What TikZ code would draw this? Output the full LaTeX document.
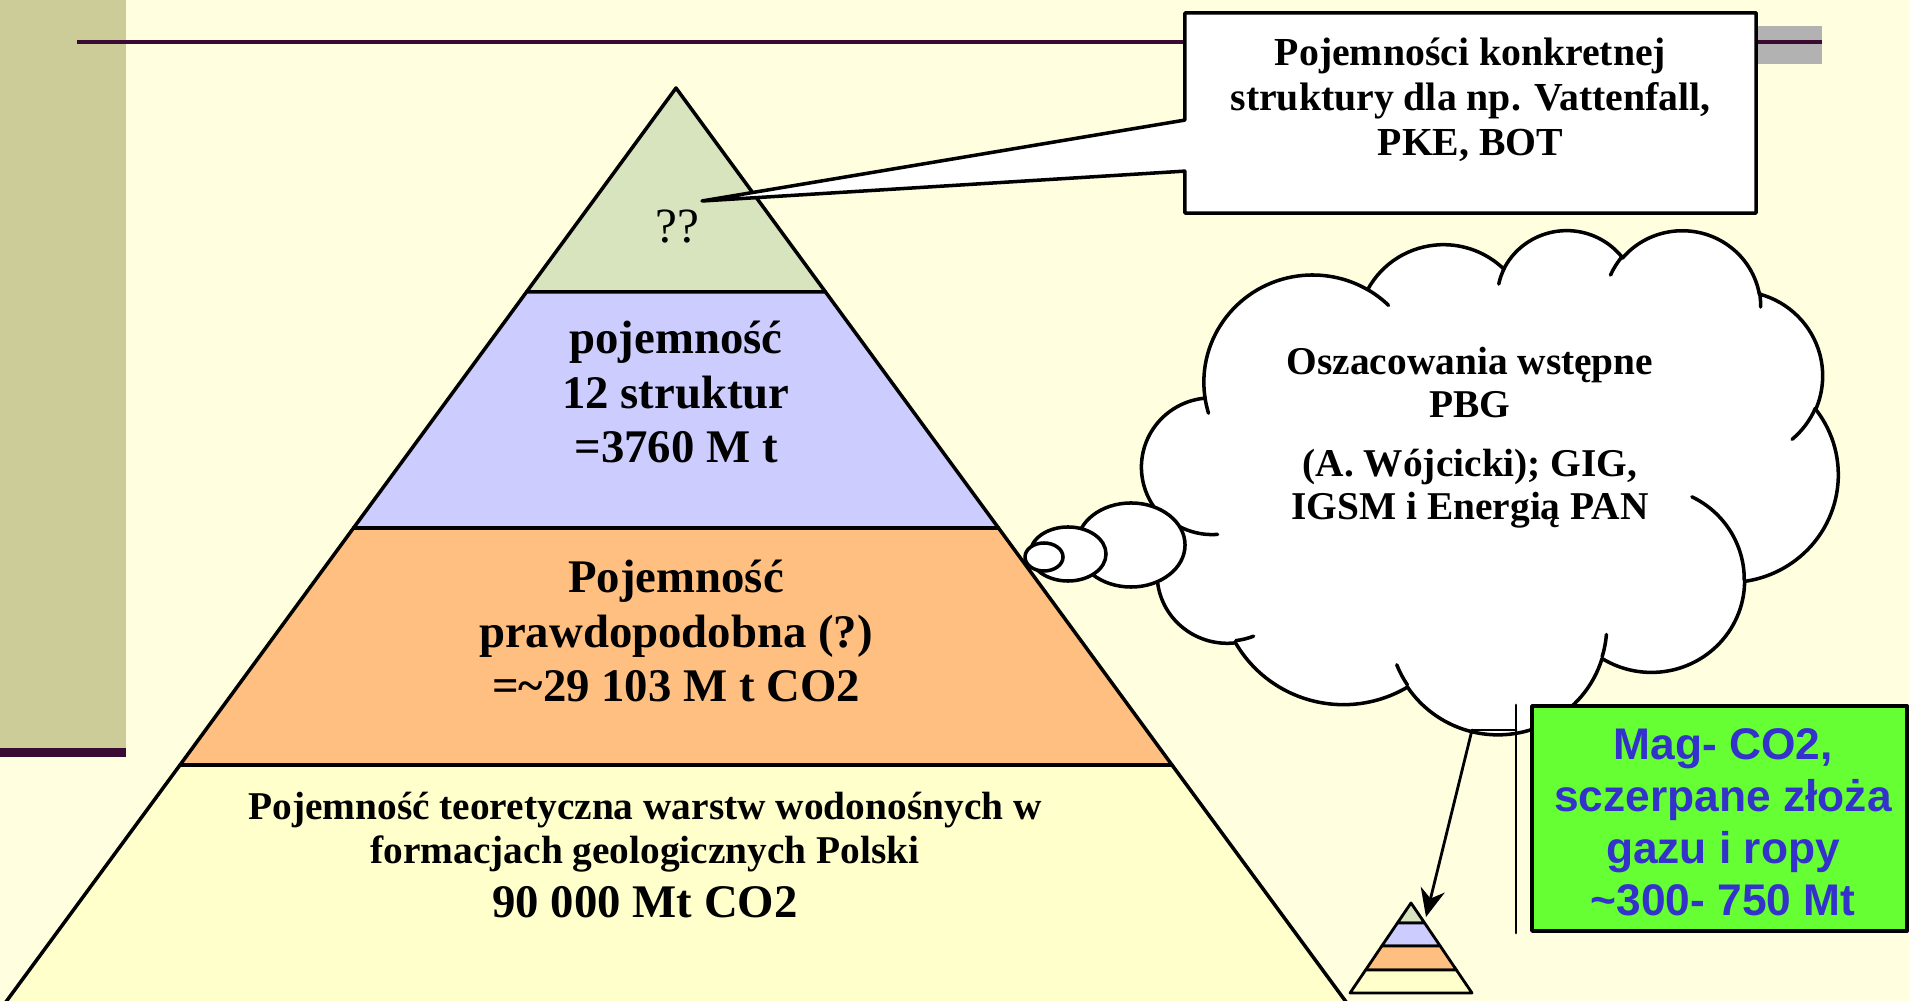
\documentclass[tikz,border=0pt]{standalone}
\usepackage{fontspec}
\setmainfont{Liberation Serif}
\newfontfamily\magfont{Liberation Sans}
\usetikzlibrary{arrows.meta,shapes.callouts,shapes.geometric,positioning}
\definecolor{slidebg}{HTML}{FFFFE0}
\definecolor{stripe}{HTML}{CCCC99}
\definecolor{plum}{HTML}{3A0A33}
\definecolor{bargray}{HTML}{B2B2B2}
\definecolor{tiergreen}{HTML}{D7E4BD}
\definecolor{tierblue}{HTML}{CCCCFF}
\definecolor{tierorange}{HTML}{FFBF80}
\definecolor{tieryellow}{HTML}{FFFFCC}
\definecolor{maggreen}{HTML}{66FF33}
\definecolor{magblue}{HTML}{3333CC}
\tikzset{
  tier/.style={draw=black,line width=1pt},
  bigtxt/.style={font=\bfseries\fontsize{13.3}{15.4}\selectfont,align=center},
  smalltxt/.style={font=\bfseries\fontsize{11.2}{12.4}\selectfont,align=center},
  bubble/.style={ellipse,draw=black,line width=1pt,fill=white,inner sep=0pt},
  cloudline/.style={draw=black,line width=1pt},
}
% elliptic arc: x radius, y radius, start and sweep as seen on the page
\newcommand{\puffarc}[4]{arc[x radius=#1,y radius=#2,
  start angle={atan2(#1*sin(#3),#2*cos(#3))},
  delta angle={Mod(atan2(#1*sin(#3+#4),#2*cos(#3+#4))-atan2(#1*sin(#3),#2*cos(#3)),360)}]}

\begin{document}
\begin{tikzpicture}[line cap=round,line join=round,>=Stealth,x=0.01cm,y=-0.01cm]
\useasboundingbox (0,0) rectangle (1909,1001);
% slide background
\fill[slidebg] (0,0) rectangle (1909,1001);
\fill[stripe] (0,0) rectangle (126,748);
\fill[plum] (0,748) rectangle (126,757);
\fill[bargray] (1755,26) rectangle (1822,64);
\draw[plum,line width=1.4pt,line cap=butt] (77,42) -- (1822,42);

% big pyramid
\filldraw[tier,fill=tiergreen] (676,88) -- (825.5,292) -- (526.5,292) -- cycle;
\filldraw[tier,fill=tierblue] (526.5,292) -- (825.5,292) -- (998.5,528) -- (353.5,528) -- cycle;
\filldraw[tier,fill=tierorange] (353.5,528) -- (998.5,528) -- (1172,765) -- (180,765) -- cycle;
\filldraw[tier,fill=tieryellow] (180,765) -- (1172,765) -- (1352,1010) -- (0,1010) -- cycle;

\node[font=\fontsize{14}{16}\selectfont] (qq) at (677,227) {??};
\coordinate (qqtip) at (702,201);
\node[bigtxt] (tierTwo) at (676,392) {pojemność\\12 struktur\\=3760 M t};
\node[bigtxt] (tierThree) at (676,631) {Pojemność\\prawdopodobna (?)\\=\textasciitilde29 103 M t CO2};
\node[smalltxt] (tierFour) at (645,832) {Pojemność teoretyczna warstw wodonośnych w\\formacjach geologicznych Polski};
\node[bigtxt] (tierFourVal) at (645,902) {90 000 Mt CO2};

% callout box
\node[rectangle callout,draw=black,line width=1pt,fill=white,minimum width=5.71cm,minimum height=2cm,
  callout absolute pointer=(qqtip),callout pointer width=0.51cm] (konkret) at (1470.5,113) {};
\node[font=\bfseries\fontsize{11.3}{12.8}\selectfont,align=center] (konkretTxt) at (1470.5,100)
  {Pojemności konkretnej\\struktury dla np. Vattenfall,\\PKE, BOT};

% cloud
\begin{scope}[shift={(1142,229)},xscale=1.6111,yscale=1.1667]
\filldraw[cloudline,fill=white] (39.00,143.70)
  \puffarc{67.53}{91.90}{-190.4875}{123.7805}
  \puffarc{53.33}{72.67}{-144.1024}{89.9452}
  \puffarc{43.65}{59.45}{-145.8079}{99.7230}
  \puffarc{48.57}{65.95}{-130.9861}{117.2417}
  \puffarc{53.33}{72.73}{-78.7089}{109.0269}
  \puffarc{67.75}{92.20}{-46.2673}{130.2690}
  \puffarc{57.85}{78.67}{0.6250}{114.0333}
  \puffarc{67.52}{92.15}{22.4516}{115.1726}
  \puffarc{77.20}{105.43}{66.2426}{75.7110}
  \puffarc{43.60}{59.18}{-274.9421}{146.7356}
  \puffarc{43.45}{59.45}{-246.8285}{152.5189}
  -- cycle;
\draw[cloudline] (46.93,261.77) \puffarc{43.45}{59.45}{86.7420}{26.4295};
\draw[cloudline] (69.28,348.99) \puffarc{43.60}{59.18}{73.6105}{11.4475};
\draw[cloudline] (164.78,390.90) \puffarc{67.52}{92.15}{137.6242}{14.0811};
\draw[cloudline] (288.27,347.51) \puffarc{67.52}{92.15}{6.4533}{15.9984};
\draw[cloudline] (341.29,229.54) \puffarc{57.85}{78.67}{-70.2924}{70.9174};
\draw[cloudline] (417.98,153.54) \puffarc{53.33}{72.73}{30.3180}{27.7515};
\draw[cloudline] (383.24,54.26) \puffarc{48.57}{65.95}{-13.7443}{14.8589};
\draw[cloudline] (290.78,39.52) \puffarc{48.57}{65.95}{-149.1815}{18.1954};
\draw[cloudline] (221.41,47.20) \puffarc{43.65}{59.45}{-163.4943}{17.6864};
\draw[cloudline] (140.00,51.92) \puffarc{67.53}{91.90}{-66.7070}{12.3194};
\draw[cloudline] (41.27,157.89) \puffarc{67.53}{91.90}{157.6544}{11.8582};
\end{scope}
\node[bubble,minimum width=1.08cm,minimum height=0.84cm] (puffA) at (1131,545) {};
\node[bubble,minimum width=0.76cm,minimum height=0.54cm] (puffB) at (1068,554) {};
\node[bubble,minimum width=0.38cm,minimum height=0.28cm] (puffC) at (1044,557) {};
\node[font=\bfseries\fontsize{11.2}{12.2}\selectfont,align=center] (ocenaTxt) at (1470,438)
  {Oszacowania wstępne\\PBG\\[4.6pt](A. Wójcicki); GIG,\\IGSM i Energią PAN};

% Mag-CO2 box
\node[draw=black,line width=1pt,fill=maggreen,minimum width=3.75cm,minimum height=2.25cm] (magco) at (1719.5,818.5) {};
\node[font=\magfont\bfseries\fontsize{12.6}{14.8}\selectfont,text=magblue,align=center] (magTxt) at (1723,822)
  {Mag- CO2,\\sczerpane złoża\\gazu i ropy\\\textasciitilde300- 750 Mt};

% small pyramid
\filldraw[tier,line width=0.8pt,fill=tiergreen] (1411,903) -- (1424.6,923) -- (1397.4,923) -- cycle;
\filldraw[tier,line width=0.8pt,fill=tierblue] (1397.4,923) -- (1424.6,923) -- (1440.2,946) -- (1381.8,946) -- cycle;
\filldraw[tier,line width=0.8pt,fill=tierorange] (1381.8,946) -- (1440.2,946) -- (1456.4,970) -- (1365.6,970) -- cycle;
\filldraw[tier,line width=0.8pt,fill=tieryellow] (1365.6,970) -- (1456.4,970) -- (1472,993) -- (1350,993) -- cycle;

\coordinate (brkTop) at (1516,705);
\coordinate (brkBot) at (1516,933);
\coordinate (brkMid) at (1516,730);
\coordinate (arrStart) at (1472,730);
\coordinate (miniTip) at (1426,917);
\draw[line width=0.8pt] (brkTop) -- (brkBot);
\draw[line width=0.8pt] (arrStart) -- (brkMid);
\draw[->,line width=0.8pt,-{Stealth[length=8pt,width=7pt]}] (arrStart) -- (miniTip);
\end{tikzpicture}
\end{document}
